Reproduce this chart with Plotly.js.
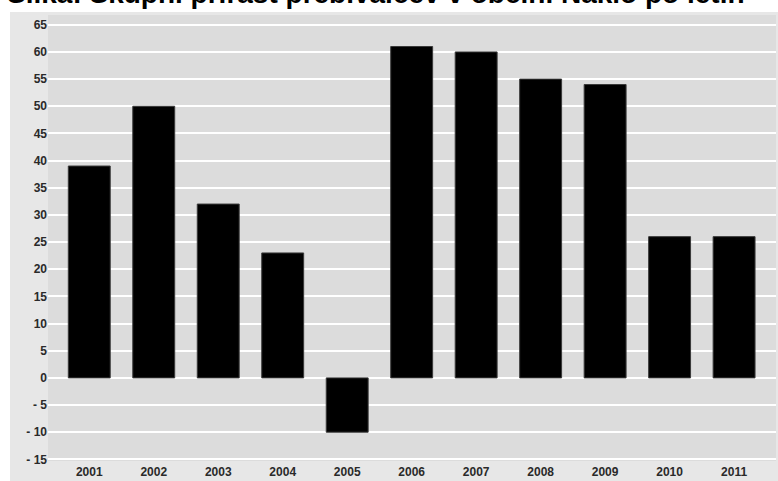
<!DOCTYPE html>
<html>
<head>
<meta charset="utf-8">
<script src="https://cdn.plot.ly/plotly-3.0.1.min.js"></script>
<style>
  html, body { margin: 0; padding: 0; background: #ffffff; }
  #chart { width: 778px; height: 481px; }
</style>
</head>
<body>
<div id="chart"></div>
<script>
// Population growth per year
const years = ['2001', '2002', '2003', '2004', '2005', '2006', '2007', '2008', '2009', '2010', '2011'];
const growth = [39, 50, 32, 23, -10, 61, 60, 55, 54, 26, 26];

// Y axis ticks, written with a spaced minus sign
const yTickVals = [-15, -10, -5, 0, 5, 10, 15, 20, 25, 30, 35, 40, 45, 50, 55, 60, 65];
const yTickText = ['- 15', '- 10', '- 5', '0', '5', '10', '15', '20', '25', '30', '35', '40', '45', '50', '55', '60', '65'];

const chartTitle = 'Slika: Skupni prirast prebivalcev v občini Naklo po letih';

const tickFont = { family: 'Liberation Sans, Arial, sans-serif', size: 12, color: '#2a2a2a', weight: 'bold' };

// plot area in pixels, used to place the heading and the panel strips
const M = { l: 48, r: 2, t: 15, b: 20 };
const plotW = 778 - M.l - M.r;
const plotH = 481 - M.t - M.b;

const trace = {
  type: 'bar',
  x: years,
  y: growth,
  width: 0.65,
  marker: { color: '#000000', line: { color: '#3a3a3a', width: 1 } },
  hoverinfo: 'x+y'
};

const layout = {
  width: 778,
  height: 481,
  margin: M,
  paper_bgcolor: '#e7e7e7',
  plot_bgcolor: '#dcdcdc',
  showlegend: false,
  xaxis: {
    type: 'category',
    range: [-0.64, 10.65],
    showgrid: false,
    zeroline: false,
    showline: false,
    ticks: '',
    ticklabelstandoff: 2,
    tickfont: tickFont,
    fixedrange: true
  },
  yaxis: {
    range: [-15.3, 66.8],
    tickmode: 'array',
    tickvals: yTickVals,
    ticktext: yTickText,
    showgrid: true,
    gridcolor: '#ffffff',
    gridwidth: 2,
    zeroline: true,
    zerolinecolor: '#ffffff',
    zerolinewidth: 2,
    showline: false,
    ticks: '',
    tickfont: tickFont,
    fixedrange: true
  },
  annotations: [
    // heading sits at the very top edge of the page
    { text: chartTitle, showarrow: false,
      xref: 'paper', yref: 'paper',
      x: (5 - M.l) / plotW, xanchor: 'left',
      y: (plotH + M.t - 11) / plotH, yanchor: 'bottom',
      font: { family: 'Liberation Sans, Arial, sans-serif', size: 28, color: '#000000', weight: 'bold' } }
  ],
  shapes: [
    // white strip on the left of the panel
    { type: 'rect', xref: 'paper', yref: 'paper', layer: 'below',
      x0: -M.l / plotW, x1: -(M.l - 10) / plotW, y0: -0.05, y1: 1.05,
      fillcolor: '#ffffff', line: { width: 0 } },
    // white strip above the panel, behind the heading
    { type: 'rect', xref: 'paper', yref: 'paper', layer: 'below',
      x0: -0.07, x1: 1.01, y0: (plotH + M.t - 12) / plotH, y1: 1.05,
      fillcolor: '#ffffff', line: { width: 0 } }
  ]
};

Plotly.newPlot('chart', [trace], layout, { displayModeBar: false, staticPlot: true });
</script>
</body>
</html>
